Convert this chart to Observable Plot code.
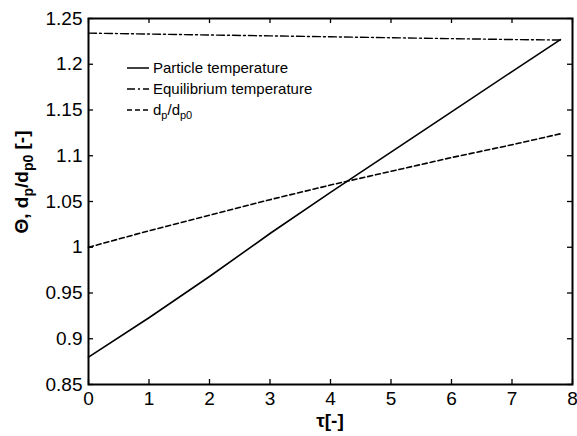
<!DOCTYPE html>
<html><head><meta charset="utf-8">
<script src="https://cdn.jsdelivr.net/npm/d3@7"></script>
<script src="https://cdn.jsdelivr.net/npm/@observablehq/plot@0.6"></script>
<style>body{margin:0;background:#fff}</style>
</head><body><div id="chart"></div>
<script>
const tau = [0, 1, 2, 3, 4, 5, 6, 7, 7.8];
const particleTemp = [0.880, 0.923, 0.968, 1.015, 1.060, 1.104, 1.148, 1.192, 1.227];
const equilibriumTemp = [1.234, 1.233, 1.232, 1.231, 1.230, 1.229, 1.228, 1.227, 1.2265];
const diameterRatio = [1.000, 1.018, 1.035, 1.052, 1.068, 1.083, 1.098, 1.112, 1.124];
const xTicks = [0, 1, 2, 3, 4, 5, 6, 7, 8];
const yTicks = [0.85, 0.9, 0.95, 1, 1.05, 1.1, 1.15, 1.2, 1.25];
const seriesNames = ["Particle temperature", "Equilibrium temperature", "dp/dp0"];

const W = 577, H = 436, mL = 88, mR = 5, mT = 18, mB = 52;
const iw = W - mL - mR, ih = H - mT - mB;
const FONT = "'Liberation Sans', Arial, Helvetica, sans-serif";

const toRows = vals => tau.map((t, i) => ({t, v: vals[i]}));

const plot = Plot.plot({
  width: W, height: H,
  marginLeft: mL, marginRight: mR, marginTop: mT, marginBottom: mB,
  style: {fontFamily: FONT, fontSize: "18px", color: "#000", background: "#fff"},
  x: {domain: [0, 8]},
  y: {domain: [0.85, 1.25]},
  marks: [
    Plot.line(toRows(particleTemp), {x: "t", y: "v", stroke: "#000", strokeWidth: 1.6}),
    Plot.line(toRows(equilibriumTemp), {x: "t", y: "v", stroke: "#000", strokeWidth: 1.4, strokeDasharray: "8,3,2,3"}),
    Plot.line(toRows(diameterRatio), {x: "t", y: "v", stroke: "#000", strokeWidth: 1.6, strokeDasharray: "5,3"}),
    Plot.tickX(xTicks, {x: d => d, insetTop: ih - 5, stroke: "#000", strokeWidth: 1.3}),
    Plot.tickX(xTicks, {x: d => d, insetBottom: ih - 5, stroke: "#000", strokeWidth: 1.3}),
    Plot.tickY(yTicks, {y: d => d, insetRight: iw - 5, stroke: "#000", strokeWidth: 1.3}),
    Plot.tickY(yTicks, {y: d => d, insetLeft: iw - 5, stroke: "#000", strokeWidth: 1.3}),
    Plot.axisX({ticks: xTicks, tickSize: 0, tickPadding: 7, label: null, fontSize: 19}),
    Plot.axisY({ticks: yTicks, tickSize: 0, tickPadding: 6, label: null, fontSize: 19,
      tickFormat: d => String(+d.toFixed(2))}),
    Plot.frame({stroke: "#000", strokeWidth: 2})
  ]
});
document.getElementById("chart").appendChild(plot);

const svg = d3.select(plot);

// y-axis label
const yl = svg.append("text")
  .attr("transform", "translate(28,182) rotate(-90)")
  .attr("text-anchor", "middle")
  .attr("font-family", FONT).attr("font-weight", "bold").attr("font-size", 19).attr("fill", "#000");
yl.append("tspan").text("Θ, d");
yl.append("tspan").attr("dy", 5).attr("font-size", 14).text("p");
yl.append("tspan").attr("dy", -5).text("/d");
yl.append("tspan").attr("dy", 5).attr("font-size", 14).text("p0");
yl.append("tspan").attr("dy", -5).text(" [-]");

// x-axis label
svg.append("text")
  .attr("x", mL + iw / 2).attr("y", 427)
  .attr("text-anchor", "middle")
  .attr("font-family", FONT).attr("font-weight", "bold").attr("font-size", 19).attr("fill", "#000")
  .text("τ[-]");

// legend
const dashes = [null, "8,3,2,3", "5,3"];
const lg = svg.append("g").attr("font-family", FONT).attr("font-size", 15)
  .attr("fill", "#000").attr("text-anchor", "start");
seriesNames.forEach((name, i) => {
  const cy = 68 + i * 21;
  lg.append("line").attr("x1", 127).attr("x2", 149).attr("y1", cy).attr("y2", cy)
    .attr("stroke", "#000").attr("stroke-width", 1.5)
    .attr("stroke-dasharray", dashes[i]);
  const t = lg.append("text").attr("x", 153).attr("y", cy + 5).attr("text-anchor", "start");
  if (i < 2) t.text(name);
  else {
    t.append("tspan").text("d");
    t.append("tspan").attr("dy", 4).attr("font-size", 11).text("p");
    t.append("tspan").attr("dy", -4).text("/d");
    t.append("tspan").attr("dy", 4).attr("font-size", 11).text("p0");
  }
});
</script>
</body></html>
